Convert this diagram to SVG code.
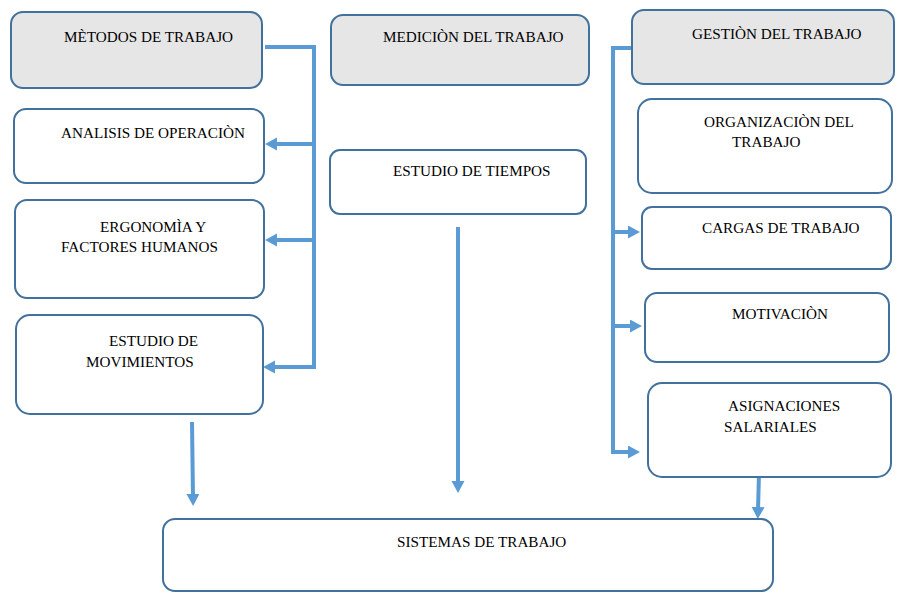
<svg xmlns="http://www.w3.org/2000/svg" width="903" height="595" viewBox="0 0 903 595">
<style>
.box{fill:#ffffff;stroke:#41719c;stroke-width:2}
.hdr{fill:#e6e6e6;stroke:#41719c;stroke-width:2}
.c{fill:none;stroke:#5b9bd5;stroke-width:4}
</style>
<defs>
<marker id="ah" markerUnits="userSpaceOnUse" markerWidth="13" markerHeight="14" refX="4" refY="6.5" orient="auto">
<path d="M0,0 L12,6.5 L0,13 z" fill="#5b9bd5"/>
</marker>
</defs>
<rect width="903" height="595" fill="#ffffff"/>
<g id="connectors">
<path class="c" d="M265 47 H314 V367 H271" marker-end="url(#ah)"/>
<path class="c" d="M314 144 H273" marker-end="url(#ah)"/>
<path class="c" d="M314 240 H273" marker-end="url(#ah)"/>
<path class="c" d="M632 48 H613 V452 H632" marker-end="url(#ah)"/>
<path class="c" d="M613 232 H632" marker-end="url(#ah)"/>
<path class="c" d="M613 326 H634" marker-end="url(#ah)"/>
<path class="c" d="M192 422 L193 498" marker-end="url(#ah)"/>
<path class="c" d="M458 227 V485" marker-end="url(#ah)"/>
<path class="c" d="M759 473 L758 511" marker-end="url(#ah)"/>
</g>
<g font-family="Liberation Serif, Times New Roman, serif" font-size="15.2" fill="#000000">
<g id="metodos">
<rect class="hdr" x="11" y="12" width="251" height="76" rx="12"/>
<text x="64" y="42">MÈTODOS DE TRABAJO</text>
</g>
<g id="analisis">
<rect class="box" x="14" y="109" width="250" height="74" rx="12"/>
<text x="61" y="138">ANALISIS DE OPERACIÒN</text>
</g>
<g id="ergonomia">
<rect class="box" x="15" y="200" width="249" height="98" rx="12"/>
<text x="100" y="232">ERGONOMÌA Y</text>
<text x="61" y="252">FACTORES HUMANOS</text>
</g>
<g id="movimientos">
<rect class="box" x="16" y="315" width="247" height="99" rx="14"/>
<text x="109" y="346">ESTUDIO DE</text>
<text x="86" y="367">MOVIMIENTOS</text>
</g>
<g id="medicion">
<rect class="hdr" x="331" y="15" width="258" height="70" rx="12"/>
<text x="383" y="42">MEDICIÒN DEL TRABAJO</text>
</g>
<g id="tiempos">
<rect class="box" x="330" y="150" width="256" height="64" rx="10"/>
<text x="393" y="176">ESTUDIO DE TIEMPOS</text>
</g>
<g id="gestion">
<rect class="hdr" x="632" y="10" width="262" height="74" rx="12"/>
<text x="692" y="39">GESTIÒN DEL TRABAJO</text>
</g>
<g id="organizacion">
<rect class="box" x="638" y="99" width="254" height="94" rx="14"/>
<text x="704" y="127">ORGANIZACIÒN DEL</text>
<text x="732" y="147">TRABAJO</text>
</g>
<g id="cargas">
<rect class="box" x="642" y="207" width="249" height="62" rx="10"/>
<text x="702" y="233">CARGAS DE TRABAJO</text>
</g>
<g id="motivacion">
<rect class="box" x="645" y="293" width="244" height="69" rx="12"/>
<text x="732" y="319">MOTIVACIÒN</text>
</g>
<g id="asignaciones">
<rect class="box" x="648" y="383" width="243" height="94" rx="14"/>
<text x="728" y="411">ASIGNACIONES</text>
<text x="724" y="432">SALARIALES</text>
</g>
<g id="sistemas">
<rect class="box" x="163" y="519" width="610" height="72" rx="12"/>
<text x="397" y="547">SISTEMAS DE TRABAJO</text>
</g>
</g>
</svg>
